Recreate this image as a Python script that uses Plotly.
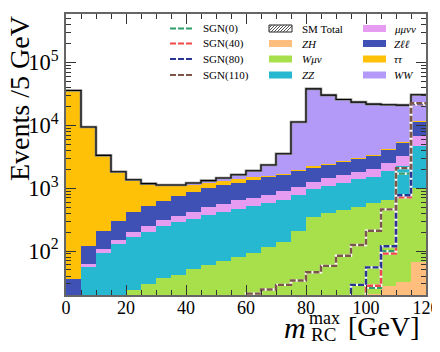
import plotly.graph_objects as go

# bin edges of m_RC^max [GeV], 5 GeV bins
bin_edges = [0, 5, 10, 15, 20, 25, 30, 35, 40, 45, 50, 55, 60, 65, 70, 75, 80, 85, 90, 95, 100, 105, 110, 115, 120]

# background yields per bin (stacked, bottom -> top)
zh = [0.2, 0.3, 0.4, 0.5, 0.6, 0.7, 0.8, 0.9, 1.0, 1.0, 1.2, 1.3, 1.5, 1.7, 2.0, 2.5, 3.0, 3.5, 4.0, 6.0, 21, 28, 32, 66]
w_munu = [0.5, 6, 10, 14, 23, 29, 36, 41, 50, 59, 68, 78, 91, 113, 138, 208, 346, 400, 452, 490, 557, 612, 709, 942]
zz = [12, 50, 84, 117, 144, 173, 214, 244, 273, 316, 355, 389, 421, 459, 517, 569, 622, 692, 753, 883, 945, 1208, 1535, 3719]
mumununu = [1.5, 7, 12, 20, 31, 46, 62, 80, 100, 120, 143, 172, 188, 214, 232, 277, 297, 335, 388, 449, 517, 664, 922, 2083]
zll = [22, 56, 100, 153, 214, 270, 321, 375, 434, 497, 540, 582, 653, 719, 748, 818, 870, 957, 1066, 1144, 1278, 1618, 2134, 4680]
tautau = [35600, 9240, 3113, 1523, 951, 660, 480, 358, 297, 247, 193, 178, 135, 72, 61, 91, 80, 61, 70, 76, 85, 106, 138, 290]
ww = [0, 0, 0, 0, 0, 0, 10, 25, 55, 75, 152, 237, 406, 756, 1832, 9274, 35732, 27681, 22967, 20302, 18307, 16914, 15460, 18710]

# signal yields per bin
sgn_0 = [1, 1, 1, 1, 1, 1, 1, 1, 1, 1, 1, 1, 1, 1, 1, 1, 1, 1, 1, 1, 26, 99, 1700, 22000]
sgn_40 = [1, 1, 1, 1, 1, 1, 1, 1, 1, 1, 1, 1, 1, 1, 1, 1, 1, 1, 1, 1, 28, 91, 714, 21500]
sgn_80 = [1, 1, 1, 1, 1, 1, 1, 1, 1, 1, 1, 1, 1, 1, 1, 1, 1, 1, 1, 29, 55, 119, 770, 21800]
sgn_110 = [1, 1, 1, 1, 1, 1, 1, 1, 1, 1, 1, 1, 21, 24.5, 29, 34, 46, 58, 84, 125, 210, 460, 2080, 22500]

backgrounds = [
    ("<i>ZH</i>", zh, "#FFBE7D"),
    ("<i>Wμν</i>", w_munu, "#A8E04C"),
    ("<i>ZZ</i>", zz, "#25B8D0"),
    ("<i>μμνν</i>", mumununu, "#E69CF0"),
    ("<i>Zℓℓ</i>", zll, "#3F51B5"),
    ("<i>ττ</i>", tautau, "#FFC107"),
    ("<i>WW</i>", ww, "#B39AF8"),
]
signals = [
    ("SGN(0)", sgn_0, "#2E9E6B"),
    ("SGN(40)", sgn_40, "#F04848"),
    ("SGN(80)", sgn_80, "#283593"),
    ("SGN(110)", sgn_110, "#7B5548"),
]

centers = [(a + b) / 2 for a, b in zip(bin_edges[:-1], bin_edges[1:])]
sm_total = [sum(v) for v in zip(zh, w_munu, zz, mumununu, zll, tautau, ww)]

fig = go.Figure()

for name, vals, col in backgrounds:
    fig.add_trace(go.Bar(x=centers, y=vals, width=5, name=name, marker_color=col,
                         marker_line_width=0, showlegend=False))

# SM total outline
fig.add_trace(go.Scatter(x=bin_edges, y=sm_total + [sm_total[-1]], mode="lines",
                         line=dict(color="#8a8a8a", width=2.6, shape="hv"), showlegend=False))
fig.add_trace(go.Scatter(x=bin_edges, y=sm_total + [sm_total[-1]], mode="lines",
                         line=dict(color="black", width=1.1, shape="hv"), showlegend=False))

# signals: white underlay so the dash gaps look white
for name, vals, col in signals:
    fig.add_trace(go.Scatter(x=bin_edges, y=vals + [vals[-1]], mode="lines",
                             line=dict(color="white", width=2.4, shape="hv"), showlegend=False))
    fig.add_trace(go.Scatter(x=bin_edges, y=vals + [vals[-1]], mode="lines", name=name,
                             line=dict(color=col, width=2.4, shape="hv", dash="6px,2px"),
                             showlegend=False))

# page has an 8px body margin, so the figure is drawn 8px smaller and shifted
OFF = 8
W, H = 440 - OFF, 352 - OFF
# plot area in page pixels: x 66..426, y 14..295
L, R, T, B = 66, 426, 14, 295


def px(x):
    return (x - L) / (R - L)


def py(y):
    return (B - y) / (B - T)


serif = "Liberation Serif"
anns = []
shapes = []

# legend, built by hand in three columns
rows = [28.5, 43.5, 59, 75]
for i, (name, vals, col) in enumerate(signals):
    shapes.append(dict(type="line", xref="paper", yref="paper", x0=px(170), x1=px(192),
                       y0=py(rows[i]), y1=py(rows[i]), line=dict(color=col, width=2, dash="6px,2px")))
    anns.append(dict(text=name, x=px(201), y=py(rows[i]), xanchor="left", yanchor="middle"))

col2 = [("SM Total", None)] + [(n, c) for n, v, c in backgrounds[:3]]
col3 = [(n, c) for n, v, c in backgrounds[3:]]
for xb, xt, items in [(269, 300, col2), (363, 392, col3)]:
    for i, (name, col) in enumerate(items):
        y = rows[i]
        if col is None:
            shapes.append(dict(type="rect", xref="paper", yref="paper", x0=px(xb), x1=px(xb + 23),
                               y0=py(y + 3.5), y1=py(y - 3.5), line=dict(color="#222", width=1),
                               fillcolor="white"))
            for k in range(8):
                x0 = xb + 3 * k - 4
                shapes.append(dict(type="line", xref="paper", yref="paper",
                                   x0=px(max(x0, xb)), x1=px(min(x0 + 7, xb + 23)),
                                   y0=py(y + 3.5 - (max(x0, xb) - x0)),
                                   y1=py(y - 3.5 + (x0 + 7 - min(x0 + 7, xb + 23))),
                                   line=dict(color="#555", width=1)))
        else:
            shapes.append(dict(type="rect", xref="paper", yref="paper", x0=px(xb), x1=px(xb + 23),
                               y0=py(y + 3.5), y1=py(y - 3.5), line=dict(width=0), fillcolor=col))
        anns.append(dict(text=name, x=px(xt), y=py(y), xanchor="left", yanchor="middle"))

for a in anns:
    a.update(xref="paper", yref="paper", showarrow=False, font=dict(family=serif, size=11, color="black"))

# axis titles
titles = [
    dict(text="Events /5 GeV", x=px(19), y=py(99), xanchor="center", textangle=-90,
         font=dict(family=serif, size=28)),
    dict(text="<i>m</i>", x=px(282), y=py(327), xanchor="left", font=dict(family=serif, size=30)),
    dict(text="max", x=px(307), y=py(318), xanchor="left", font=dict(family=serif, size=18)),
    dict(text="RC", x=px(309), y=py(334.5), xanchor="left", font=dict(family=serif, size=19)),
    dict(text="[GeV]", x=px(346), y=py(326), xanchor="left", font=dict(family=serif, size=28)),
]
for a in titles:
    a.update(xref="paper", yref="paper", showarrow=False, yanchor="middle")
    a["font"]["color"] = "black"
anns += titles

fig.update_layout(
    width=W, height=H,
    margin=dict(l=L - OFF, r=W - (R - OFF), t=T - OFF, b=H - (B - OFF)),
    barmode="stack", bargap=0,
    plot_bgcolor="white", paper_bgcolor="white",
    showlegend=False,
    annotations=anns, shapes=shapes,
    font=dict(family=serif, color="black"),
)
fig.update_xaxes(
    range=[0, 120], tickvals=[0, 20, 40, 60, 80, 100, 120],
    ticks="inside", ticklen=10, tickcolor="#333", tickwidth=1,
    minor=dict(ticks="inside", ticklen=5, dtick=5, tickcolor="#333"),
    showline=True, linecolor="#666", linewidth=1.5, mirror="ticks",
    showgrid=False, zeroline=False, automargin=False, ticklabelstandoff=-4,
    tickfont=dict(family=serif, size=18, color="black"),
)
fig.update_yaxes(
    type="log", range=[1.301, 5.769], dtick=1, exponentformat="power",
    ticks="inside", ticklen=10, tickcolor="#333", tickwidth=1,
    minor=dict(ticks="inside", ticklen=5, dtick="D1", tickcolor="#333"),
    showline=True, linecolor="#666", linewidth=1.5, mirror="ticks",
    showgrid=False, zeroline=False, automargin=False, ticklabelstandoff=2,
    tickfont=dict(family=serif, size=18, color="black"),
)

fig.write_html("out.html")
